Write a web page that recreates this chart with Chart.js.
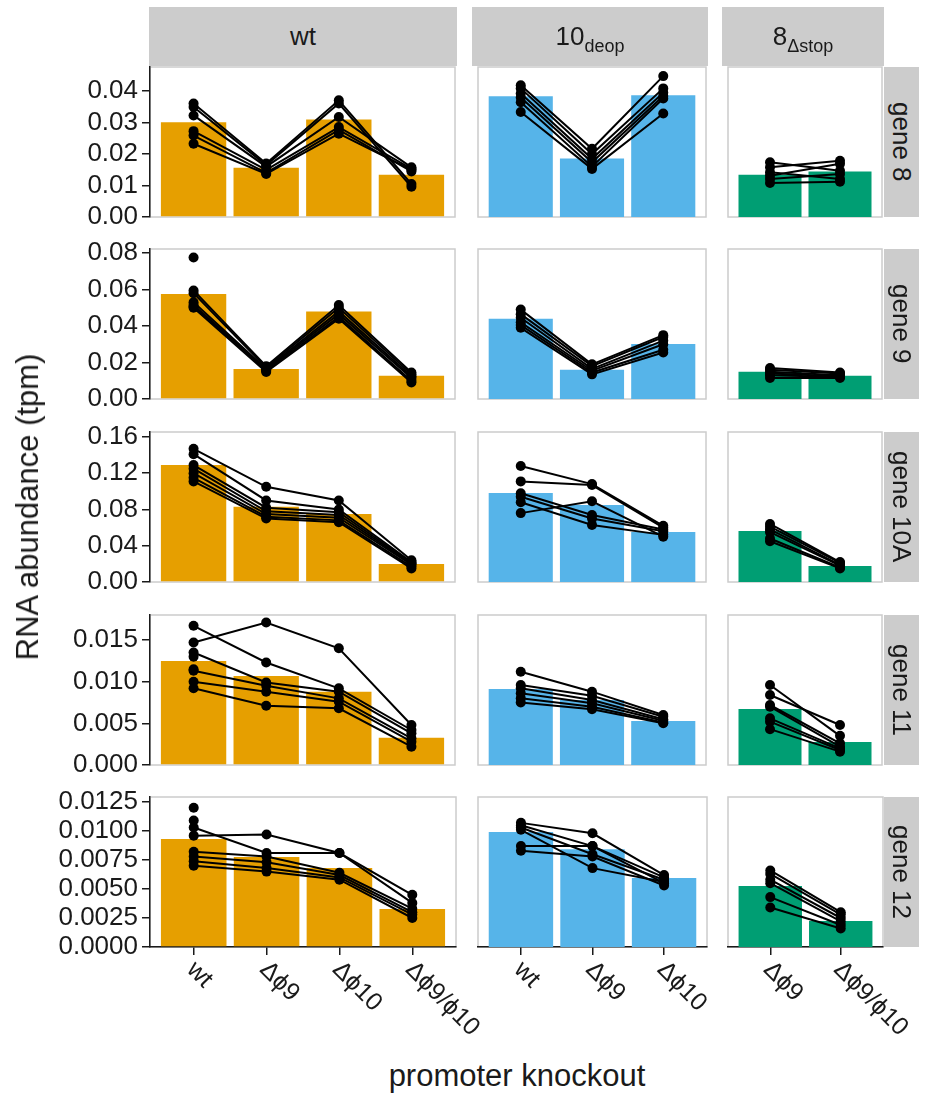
<!DOCTYPE html>
<html>
<head>
<meta charset="utf-8">
<script src="https://cdn.jsdelivr.net/npm/chart.js@4.4.1/dist/chart.umd.min.js"></script>
<style>
  body { margin: 0; background: #fff; width: 926px; height: 1093px; position: relative; overflow: hidden;
         font-family: 'Liberation Sans', Arial, sans-serif; color: #1a1a1a; }
  canvas { position: absolute; }
  .strip { position: absolute; background: #cccccc; display: flex; align-items: center; justify-content: center;
           font-size: 26px; color: #1a1a1a; }
  .strip sub { font-size: 18px; vertical-align: -7px; line-height: 0; }
  .rstrip { writing-mode: vertical-rl; }
  .title { position: absolute; font-size: 31px; white-space: nowrap; transform: translate(-50%, -50%); }
</style>
</head>
<body>
<script>
/* ---- data ---- */
var strains = ['wt', '10', '8'];
var strainSub = ['', 'deop', '\u0394stop'];
var genes = ['gene 8', 'gene 9', 'gene 10A', 'gene 11', 'gene 12'];
var knockouts = [
  ['wt', '\u0394\u03d59', '\u0394\u03d510', '\u0394\u03d59/\u03d510'],
  ['wt', '\u0394\u03d59', '\u0394\u03d510'],
  ['\u0394\u03d59', '\u0394\u03d59/\u03d510']
];
var yMax = [0.0477, 0.0822, 0.1655, 0.018, 0.01293];
var yTickLabels = [
  ['0.00', '0.01', '0.02', '0.03', '0.04'],
  ['0.00', '0.02', '0.04', '0.06', '0.08'],
  ['0.00', '0.04', '0.08', '0.12', '0.16'],
  ['0.000', '0.005', '0.010', '0.015'],
  ['0.0000', '0.0025', '0.0050', '0.0075', '0.0100', '0.0125']
];

// bar heights (mean), one array per strain
var barsGene8 = [[0.0301, 0.0157, 0.0310, 0.0134], [0.0384, 0.0186, 0.0387], [0.0134, 0.0145]];
var barsGene9 = [[0.0575, 0.0165, 0.0479, 0.0127], [0.0440, 0.0160, 0.0302], [0.0149, 0.0127]];
var barsGene10A = [[0.1291, 0.0831, 0.0750, 0.0199], [0.0982, 0.0850, 0.0552], [0.0563, 0.0177]];
var barsGene11 = [[0.01248, 0.01068, 0.0088, 0.00328], [0.00912, 0.0078, 0.00528], [0.00672, 0.00276]];
var barsGene12 = [[0.0093, 0.00776, 0.00681, 0.00328], [0.00991, 0.00842, 0.00595], [0.00526, 0.00224]];

// replicates: one row per replicate, one value per knockout
var repsGene8Wt = [
  [0.0361, 0.0170, 0.0371, 0.0105], [0.0350, 0.0165, 0.0361, 0.0096], [0.0323, 0.0160, 0.0318, 0.0158],
  [0.0273, 0.0150, 0.0286, 0.0153], [0.0259, 0.0140, 0.0277, 0.0145], [0.0233, 0.0137, 0.0265, 0.0150]
];
var repsGene8Deop = [
  [0.0419, 0.0217, 0.0448], [0.0409, 0.0200, 0.0409], [0.0393, 0.0185, 0.0395],
  [0.0380, 0.0174, 0.0385], [0.0365, 0.0160, 0.0377], [0.0334, 0.0153, 0.0329]
];
var repsGene8Stop = [[0.0174, 0.0147], [0.0158, 0.0179], [0.0142, 0.0121], [0.0131, 0.0169], [0.0121, 0.0137], [0.0108, 0.0112]];

var repsGene9Wt = [
  [0.0775, null, null, null],
  [0.0595, 0.0180, 0.0515, 0.0145], [0.0580, 0.0172, 0.0500, 0.0135], [0.0530, 0.0165, 0.0480, 0.0125],
  [0.0515, 0.0160, 0.0465, 0.0115], [0.0505, 0.0155, 0.0450, 0.0100], [0.0500, 0.0148, 0.0440, 0.0090]
];
var repsGene9Deop = [
  [0.0490, 0.0190, 0.0350], [0.0465, 0.0180, 0.0340], [0.0445, 0.0165, 0.0320],
  [0.0420, 0.0155, 0.0300], [0.0405, 0.0145, 0.0270], [0.0390, 0.0135, 0.0255]
];
var repsGene9Stop = [[0.0170, 0.0145], [0.0160, 0.0140], [0.0150, 0.0130], [0.0140, 0.0125], [0.0130, 0.0120], [0.0115, 0.0115]];

var repsGene10AWt = [
  [0.147, 0.105, 0.090, 0.024], [0.141, 0.090, 0.080, 0.022], [0.129, 0.082, 0.077, 0.021], [0.125, 0.078, 0.074, 0.020],
  [0.120, 0.075, 0.071, 0.019], [0.115, 0.072, 0.068, 0.017], [0.111, 0.070, 0.066, 0.015]
];
var repsGene10ADeop = [
  [0.128, 0.108, 0.062], [0.111, 0.107, 0.060], [0.098, 0.074, 0.058],
  [0.094, 0.070, 0.056], [0.088, 0.063, 0.052], [0.076, 0.089, 0.050]
];
var repsGene10AStop = [[0.064, 0.022], [0.061, 0.021], [0.058, 0.019], [0.055, 0.018], [0.048, 0.016], [0.045, 0.015]];

var repsGene11Wt = [
  [0.0147, 0.0171, 0.0140, 0.0048], [0.0167, 0.0123, 0.0092, 0.0042], [0.0135, 0.0099, 0.0088, 0.0038],
  [0.0113, 0.0095, 0.0080, 0.0032], [0.0100, 0.0088, 0.0076, 0.0028], [0.0092, 0.0071, 0.0068, 0.0022],
  [0.0130, null, null, null], [0.0115, null, null, null]
];
var repsGene11Deop = [
  [0.0112, 0.0088, 0.0060], [0.0096, 0.0083, 0.0058], [0.0092, 0.0078, 0.0055],
  [0.0086, 0.0074, 0.0053], [0.0080, 0.0070, 0.0051], [0.0075, 0.0067, 0.0050]
];
var repsGene11Stop = [[0.0096, 0.0035], [0.0084, 0.0048], [0.0072, 0.0026], [0.0070, 0.0022], [0.0056, 0.0020], [0.0052, 0.0018], [0.0043, 0.0016]];

var repsGene12Wt = [
  [0.0120, null, null, null], [0.0109, null, null, null],
  [0.0103, 0.0081, 0.0081, 0.0038], [0.0096, 0.0097, 0.0081, 0.0045], [0.0082, 0.0078, 0.0064, 0.0033],
  [0.0078, 0.0073, 0.0062, 0.0030], [0.0074, 0.0068, 0.0060, 0.0028], [0.0070, 0.0065, 0.0058, 0.0025]
];
var repsGene12Deop = [
  [0.0107, 0.0098, 0.0062], [0.0105, 0.0087, 0.0060], [0.0103, 0.0080, 0.0058],
  [0.0101, 0.0068, 0.0056], [0.0087, 0.0087, 0.0055], [0.0083, 0.0078, 0.0053]
];
var repsGene12Stop = [[0.0066, 0.0030], [0.0063, 0.0028], [0.0058, 0.0025], [0.0055, 0.0022], [0.0043, 0.0019], [0.0034, 0.0016]];

var bars = [barsGene8, barsGene9, barsGene10A, barsGene11, barsGene12];
var reps = [
  [repsGene8Wt, repsGene8Deop, repsGene8Stop],
  [repsGene9Wt, repsGene9Deop, repsGene9Stop],
  [repsGene10AWt, repsGene10ADeop, repsGene10AStop],
  [repsGene11Wt, repsGene11Deop, repsGene11Stop],
  [repsGene12Wt, repsGene12Deop, repsGene12Stop]
];

/* ---- layout ---- */
var colLeft = [150, 473, 723], colRight = [456, 707, 883];
var rowTop = [67, 249, 432, 615, 797], panelH = 150;
var padTop = 22, padBottom = 22, padRight = 4, xAxisH = 100, labelRoom = 70;
var fills = ['#E69F00', '#56B4E9', '#009E73'];
var FONT = "'Liberation Sans', Arial, sans-serif";

Chart.defaults.font.family = FONT;
Chart.defaults.font.size = 26;
Chart.defaults.color = '#1a1a1a';
Chart.defaults.animation = false;

// grey panel border
var frame = {
  id: 'frame',
  beforeDraw: function(chart) {
    var a = chart.chartArea, ctx = chart.ctx;
    ctx.save();
    ctx.strokeStyle = '#cccccc';
    ctx.lineWidth = 1.5;
    ctx.strokeRect(a.left, a.top, a.right - a.left, a.bottom - a.top);
    ctx.restore();
  }
};

// x tick labels slanted downwards to the right
var slant = {
  id: 'slant',
  afterDraw: function(chart, args, opts) {
    if (!opts.labels) return;
    var ctx = chart.ctx, xs = chart.scales.x, bottom = chart.chartArea.bottom;
    ctx.save();
    ctx.font = '25px ' + FONT;
    ctx.fillStyle = '#1a1a1a';
    ctx.textAlign = 'left';
    ctx.textBaseline = 'middle';
    opts.labels.forEach(function(t, i) {
      ctx.save();
      ctx.translate(xs.getPixelForValue(i) - 3, bottom + 19);
      ctx.rotate(Math.PI / 4);
      ctx.fillText(t, 0, 0);
      ctx.restore();
    });
    ctx.restore();
  }
};

genes.forEach(function(gene, r) {
  strains.forEach(function(strain, c) {
    var cats = knockouts[c];
    var isBottom = r === genes.length - 1, isLeft = c === 0;
    var left = isLeft ? 0 : colLeft[c];
    var right = padRight + (isBottom ? labelRoom : 0);
    var w = colRight[c] - left + right;
    var h = padTop + panelH + (isBottom ? xAxisH : padBottom);

    var canvas = document.createElement('canvas');
    canvas.width = w; canvas.height = h;
    canvas.style.left = left + 'px';
    canvas.style.top = (rowTop[r] - padTop) + 'px';
    document.body.appendChild(canvas);

    var datasets = [{
      type: 'bar',
      data: bars[r][c].map(function(v, i) { return {x: i, y: v}; }),
      backgroundColor: fills[c],
      barPercentage: 0.9,
      categoryPercentage: 1.0,
      order: 2
    }];
    reps[r][c].forEach(function(rep) {
      datasets.push({
        type: 'line',
        data: rep.map(function(v, i) { return {x: i, y: v}; }),
        borderColor: '#000',
        borderWidth: 2,
        pointRadius: 5,
        pointBorderWidth: 0,
        pointBackgroundColor: '#000',
        spanGaps: false,
        clip: false,
        order: 1
      });
    });

    new Chart(canvas, {
      data: {datasets: datasets},
      plugins: [frame, slant],
      options: {
        responsive: false,
        devicePixelRatio: 1,
        layout: {padding: {top: padTop, right: right, bottom: isBottom ? 0 : padBottom, left: 0}},
        plugins: {
          legend: {display: false},
          tooltip: {enabled: false},
          slant: isBottom ? {labels: cats} : {}
        },
        scales: {
          x: {
            type: 'linear',
            min: -0.6, max: cats.length - 0.4,
            offset: false,
            display: isBottom,
            afterBuildTicks: function(s) { s.ticks = cats.map(function(t, i) { return {value: i}; }); },
            afterFit: function(s) { s.height = isBottom ? xAxisH : 0; },
            grid: {display: true, offset: false, drawOnChartArea: false, drawTicks: true, tickLength: 8, color: '#1a1a1a', lineWidth: 1.5},
            border: {display: true, color: '#1a1a1a', width: 1.5},
            ticks: {display: false, autoSkip: false}
          },
          y: {
            type: 'linear',
            min: 0, max: yMax[r],
            display: isLeft,
            afterBuildTicks: function(s) { s.ticks = yTickLabels[r].map(function(t) { return {value: parseFloat(t)}; }); },
            afterFit: function(s) { s.width = isLeft ? colLeft[0] : 0; },
            grid: {display: true, drawOnChartArea: false, drawTicks: true, tickLength: 8, color: '#1a1a1a', lineWidth: 1.5},
            border: {display: true, color: '#1a1a1a', width: 1.5},
            ticks: {padding: 4, autoSkip: false, callback: function(v, i) { return yTickLabels[r][i]; }}
          }
        }
      }
    });
  });
});

// facet strips
strains.forEach(function(s, c) {
  var d = document.createElement('div');
  d.className = 'strip';
  d.style.left = (colLeft[c] - 1) + 'px';
  d.style.top = '7px';
  d.style.width = (colRight[c] - colLeft[c] + 2) + 'px';
  d.style.height = '59px';
  d.innerHTML = '<span>' + s + (strainSub[c] ? '<sub>' + strainSub[c] + '</sub>' : '') + '</span>';
  document.body.appendChild(d);
});
genes.forEach(function(g, r) {
  var d = document.createElement('div');
  d.className = 'strip rstrip';
  d.style.left = '884px';
  d.style.top = rowTop[r] + 'px';
  d.style.width = '35px';
  d.style.height = panelH + 'px';
  d.textContent = g;
  document.body.appendChild(d);
});

// axis titles
var yt = document.createElement('div');
yt.className = 'title';
yt.style.left = '28px'; yt.style.top = '507px';
yt.style.transform = 'translate(-50%, -50%) rotate(-90deg)';
yt.textContent = 'RNA abundance (tpm)';
document.body.appendChild(yt);

var xt = document.createElement('div');
xt.className = 'title';
xt.style.left = '517px'; xt.style.top = '1076px';
xt.textContent = 'promoter knockout';
document.body.appendChild(xt);
</script>
</body>
</html>
